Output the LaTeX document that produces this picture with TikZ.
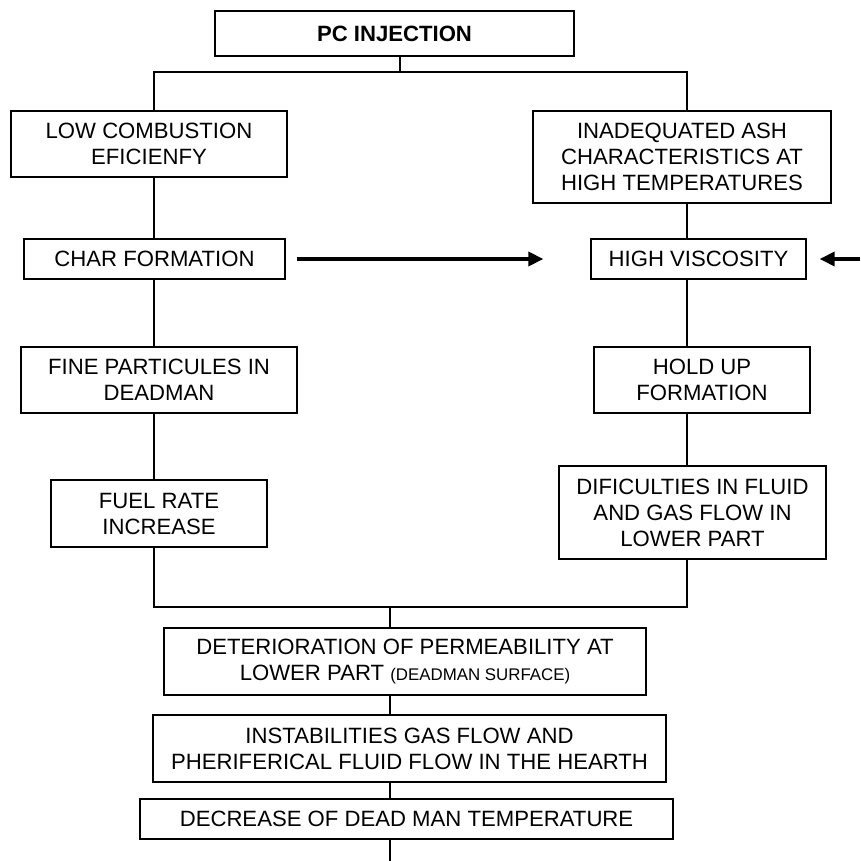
\documentclass[tikz,border=0pt]{standalone}
\usepackage{fontspec}
\setmainfont{Liberation Sans}
\usetikzlibrary{arrows.meta}
\usetikzlibrary{calc}

\begin{document}
\begin{tikzpicture}[x=0.02cm, y=-0.02cm,
    blk/.style={draw, rectangle, line width=0.75pt, inner sep=0pt, align=center,
        font=\fontsize{12.6pt}{14.8pt}\selectfont},
    link/.style={line width=0.65pt},
    arr/.style={line width=2pt, -{Triangle[length=0.3cm, width=0.28cm]}}]
        \useasboundingbox (0,0) rectangle (860,861);
        \node [blk, minimum width=359*0.02cm, minimum height=45*0.02cm] (pc) at (394.5,33.5) {\textbf{PC INJECTION}};
        \node [blk, minimum width=276*0.02cm, minimum height=66*0.02cm] (low) at (149,144) {LOW COMBUSTION\\EFICIENFY};
        \node [blk, minimum width=298*0.02cm, minimum height=92*0.02cm] (ash) at (682,157) {INADEQUATED ASH\\CHARACTERISTICS AT\\HIGH TEMPERATURES};
        \node [blk, minimum width=261*0.02cm, minimum height=40*0.02cm] (char) at (154.5,259) {CHAR FORMATION};
        \node [blk, minimum width=215*0.02cm, minimum height=40*0.02cm] (visc) at (698.5,259) {HIGH VISCOSITY};
        \node [blk, minimum width=276*0.02cm, minimum height=66*0.02cm] (fine) at (159,380) {FINE PARTICULES IN\\DEADMAN};
        \node [blk, minimum width=216*0.02cm, minimum height=66*0.02cm] (hold) at (702,380) {HOLD UP\\FORMATION};
        \node [blk, minimum width=216*0.02cm, minimum height=67*0.02cm] (fuel) at (159,513.5) {FUEL RATE\\INCREASE};
        \node [blk, minimum width=267*0.02cm, minimum height=93*0.02cm] (dific) at (692.5,512.5) {DIFICULTIES IN FLUID\\AND GAS FLOW IN\\LOWER PART};
        \node [blk, minimum width=482*0.02cm, minimum height=67*0.02cm] (det) at (405,661.5) {DETERIORATION OF PERMEABILITY AT\\LOWER PART {\fontsize{9.6pt}{11pt}\selectfont(DEADMAN SURFACE)}};
        \node [blk, minimum width=513*0.02cm, minimum height=67*0.02cm] (inst) at (409.5,748.5) {INSTABILITIES GAS FLOW AND\\PHERIFERICAL FLUID FLOW IN THE HEARTH};
        \node [blk, minimum width=533*0.02cm, minimum height=40*0.02cm] (dec) at (406.5,819) {DECREASE OF DEAD MAN TEMPERATURE};

        % junction points
        \coordinate (tj) at (400,72);
        \coordinate (lt) at (154,72);
        \coordinate (rt) at (687,72);
        \coordinate (lb) at (154,607);
        \coordinate (rb) at (687,607);
        \coordinate (bj) at (390,607);
        \coordinate (bend) at (390,861);
        \coordinate (redge) at (860,259);

        % left and right branches
        \draw[link] (tj |- pc.south) -- (tj);
        \draw[link] (lt |- low.north) -- (lt) -- (rt) -- (rt |- ash.north);
        \draw[link] (lt |- low.south) -- (lt |- char.north);
        \draw[link] (lt |- char.south) -- (lt |- fine.north);
        \draw[link] (lt |- fine.south) -- (lt |- fuel.north);
        \draw[link] (rt |- ash.south) -- (rt |- visc.north);
        \draw[link] (rt |- visc.south) -- (rt |- hold.north);
        \draw[link] (rt |- hold.south) -- (rt |- dific.north);
        \draw[link] (lt |- fuel.south) -- (lb) -- (rb) -- (rt |- dific.south);

        % bottom chain
        \draw[link] (bj) -- (bj |- det.north);
        \draw[link] (bj |- det.south) -- (bj |- inst.north);
        \draw[link] (bj |- inst.south) -- (bj |- dec.north);
        \draw[link] (bj |- dec.south) -- (bend);

        % arrows
        \draw[arr, shorten <=0.22cm, shorten >=0.94cm] (char) -- (visc);
        \draw[arr, shorten >=0.26cm] (redge) -- (visc);
    \end{tikzpicture}
\end{document}
